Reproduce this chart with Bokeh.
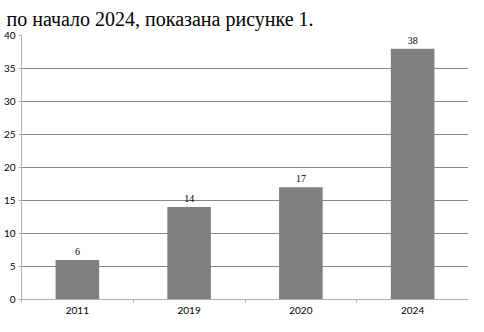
from bokeh.plotting import figure
from bokeh.models import Range1d, FixedTicker, LabelSet, ColumnDataSource
from bokeh.embed import file_html
from bokeh.resources import INLINE

# ---- data ----
categories = ["2011", "2019", "2020", "2024"]
values = [6, 14, 17, 38]
y_ticks = [0, 5, 10, 15, 20, 25, 30, 35, 40]
title_text = "по начало 2024, показана рисунке 1."

n = len(categories)
centers = [i + 0.5 for i in range(n)]
edges = list(range(n + 1))
src = ColumnDataSource(dict(x=centers, val=values, lbl=[str(v) for v in values]))

LABEL_FONT = "Lato"
GRID = "#888888"
AXIS = "#b0b0b0"

p = figure(x_range=Range1d(0, n), y_range=Range1d(y_ticks[0], y_ticks[-1]),
           width=468, height=316, output_backend="svg", toolbar_location=None,
           min_border_left=0, min_border_right=0,
           min_border_top=0, min_border_bottom=0)

p.title.text = title_text
p.title.text_font = "Liberation Serif"
p.title.text_font_size = "20px"
p.title.text_font_style = "normal"
p.title.text_color = "black"
p.title.align = "left"
p.title.offset = -15
p.title.standoff = 11

p.vbar(x="x", top="val", width=0.39, source=src, fill_color="#7f7f7f", line_color=None)

labels = LabelSet(x="x", y="val", text="lbl", source=src, text_align="center",
                  text_baseline="bottom", y_offset=5, text_font=LABEL_FONT,
                  text_font_size="10px", text_color="black")
p.add_layout(labels)

# y axis
p.yaxis.ticker = FixedTicker(ticks=y_ticks)
p.yaxis.axis_line_color = AXIS
p.yaxis.major_tick_line_color = AXIS
p.yaxis.major_tick_in = 0
p.yaxis.major_tick_out = 3
p.yaxis.minor_tick_line_color = None
p.yaxis.major_label_standoff = 3
p.yaxis.major_label_text_font = LABEL_FONT
p.yaxis.major_label_text_font_size = "10px"
p.yaxis.major_label_text_color = "black"

# x axis: labels at category centres, small ticks at category boundaries
p.xaxis.ticker = FixedTicker(ticks=centers, minor_ticks=edges)
p.xaxis.major_label_overrides = {c: lab for c, lab in zip(centers, categories)}
p.xaxis.major_tick_line_color = None
p.xaxis.major_tick_in = 0
p.xaxis.major_tick_out = 0
p.xaxis.minor_tick_line_color = AXIS
p.xaxis.minor_tick_in = 0
p.xaxis.minor_tick_out = 3
p.xaxis.axis_line_color = AXIS
p.xaxis.major_label_standoff = 4
p.xaxis.major_label_text_font = LABEL_FONT
p.xaxis.major_label_text_font_size = "10px"
p.xaxis.major_label_text_color = "black"

p.ygrid.ticker = FixedTicker(ticks=y_ticks)
p.ygrid.grid_line_color = GRID
p.xgrid.visible = False
p.outline_line_color = None

open("out.html", "w").write(file_html(p, INLINE))
